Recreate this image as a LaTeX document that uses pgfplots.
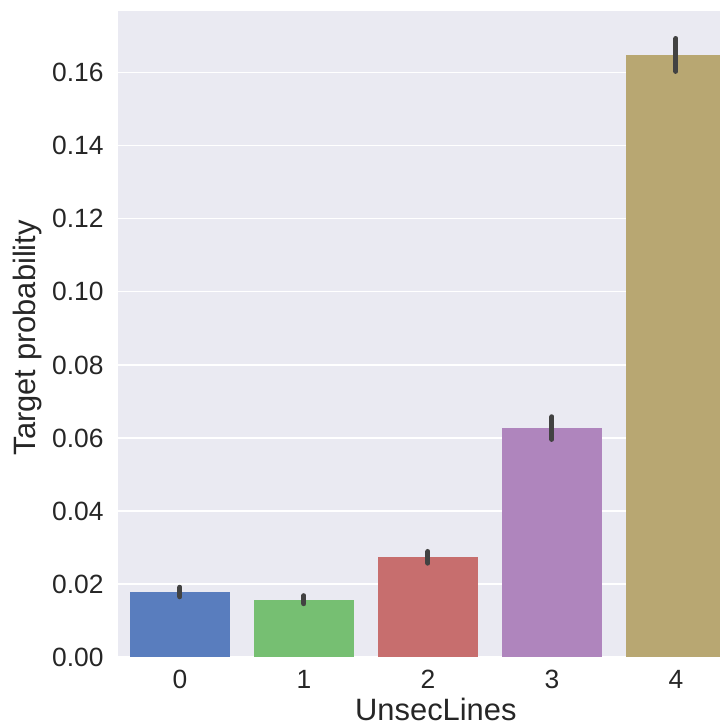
\documentclass[border=0pt]{standalone}
\usepackage{fontspec}
\setmainfont{Liberation Sans}
\usepackage{pgfplots}
\pgfplotsset{compat=1.18}
\definecolor{bgc}{HTML}{EAEAF2}
\definecolor{cA}{HTML}{597DBE}
\definecolor{cB}{HTML}{76BF72}
\definecolor{cC}{HTML}{C76E6E}
\definecolor{cD}{HTML}{AF85BD}
\definecolor{cE}{HTML}{B8A772}
\definecolor{errc}{HTML}{424242}
\definecolor{txtc}{HTML}{262626}
\begin{document}
\begin{tikzpicture}
\begin{axis}[
  scale only axis,
  width=602bp, height=645.5bp,
  xmin=-0.5, xmax=4.355,
  ymin=0, ymax=0.1768,
  axis background/.style={fill=bgc},
  axis line style={draw=none},
  major tick length=0,
  ymajorgrids, grid style={white, line width=1.2bp},
  xtick={0,1,2,3,4},
  ytick={0,0.02,0.04,0.06,0.08,0.10,0.12,0.14,0.16},
  /pgf/number format/assume math mode=true,
  y tick label style={/pgf/number format/fixed, /pgf/number format/fixed zerofill, /pgf/number format/precision=2, xshift=-11bp},
  tick label style={font=\fontsize{26.5}{30}\selectfont, text=txtc},
  x tick label style={yshift=-10bp},
  xlabel={UnsecLines},
  ylabel={Target probability},
  label style={font=\fontsize{31}{36}\selectfont, text=txtc},
  x label style={at={(axis description cs:0.528,0)}, anchor=base, yshift=-63bp},
  y label style={at={(axis description cs:0,0.4946)}, anchor=center, yshift=90bp},
  ybar, bar width=0.8, bar shift=0,
  error bars/y dir=both, error bars/y explicit,
  error bars/error mark=none,
  error bars/error bar style={line width=5bp, color=errc, line cap=round},
  clip=true,
]
\addplot[fill=cA, draw=none] coordinates {(0,0.0178) +- (0,0.0013)};
\addplot[fill=cB, draw=none] coordinates {(1,0.0157) +- (0,0.0011)};
\addplot[fill=cC, draw=none] coordinates {(2,0.0273) +- (0,0.0016)};
\addplot[fill=cD, draw=none] coordinates {(3,0.0627) +- (0,0.0031)};
\addplot[fill=cE, draw=none] coordinates {(4,0.1649) +- (0,0.0045)};
\end{axis}
\pgfresetboundingbox
\path ([shift={(-118bp,-68bp)}]current axis.south west) rectangle ([shift={(0bp,11.5bp)}]current axis.north east);
\end{tikzpicture}
\end{document}
